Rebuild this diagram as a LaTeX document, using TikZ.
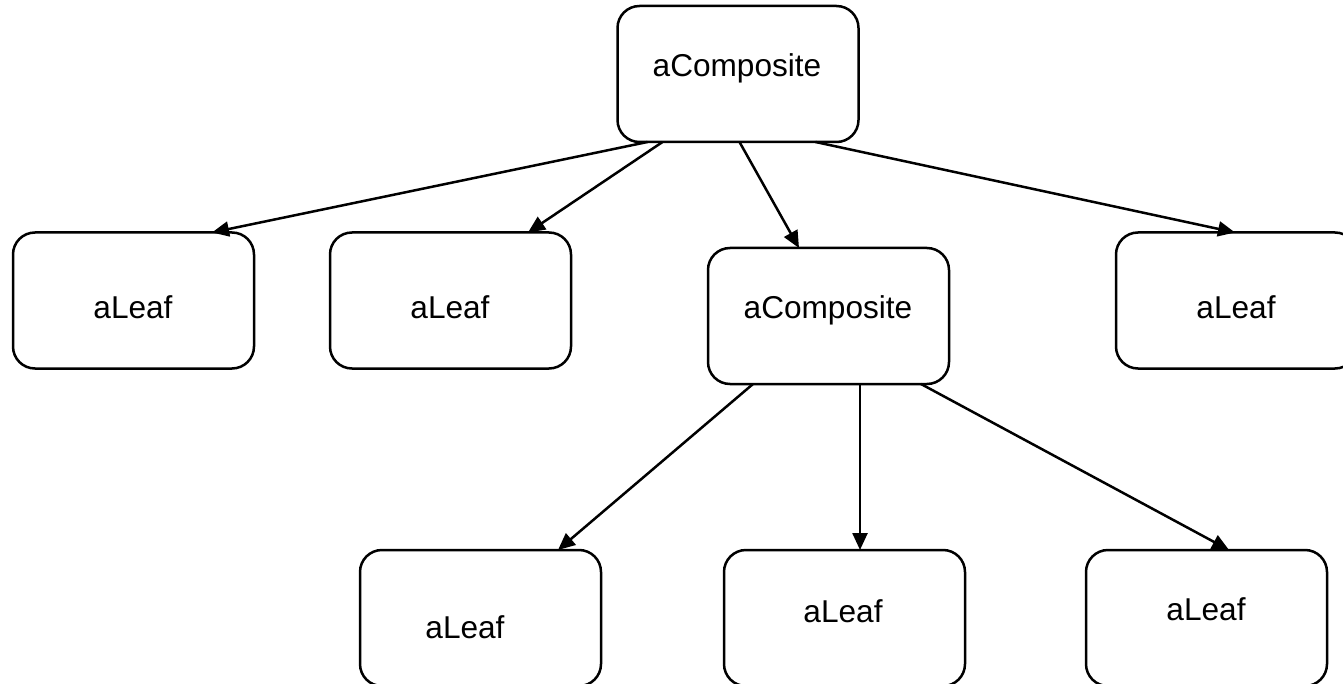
\documentclass[tikz,border=0pt]{standalone}
\usepackage{fontspec}
\setmainfont{Liberation Sans}
\usetikzlibrary{arrows.meta,calc}
\begin{document}
\begin{tikzpicture}[x=0.5pt,y=-0.5pt,
  box/.style={draw, line width=1.25pt, rounded corners=11pt, minimum width=120.5pt, minimum height=68pt, inner sep=0pt, outer sep=0pt},
  lbl/.style={anchor=base, inner sep=0pt, font=\fontsize{15.8}{19}\selectfont},
  conn/.style={line width=1.25pt, -{Triangle[length=8.5pt,width=7.5pt]}}]
\useasboundingbox (0,0) rectangle (1343,684);
\clip (0,0) rectangle (1343,684);
% boxes
\node[box] (c1) at (738,74) {};
\node[box] (l1) at (133.5,300.5) {};
\node[box] (l2) at (450.5,300.5) {};
\node[box] (m)  at (828.5,316) {};
\node[box] (r)  at (1236.5,300.5) {};
\node[box] (b1) at (480.5,618) {};
\node[box] (b2) at (844.5,618) {};
\node[box] (b3) at (1206.5,618) {};
% labels
\node[lbl] (c1t) at (737,77) {aComposite};
\node[lbl] (l1t) at (133,318) {aLeaf};
\node[lbl] (l2t) at (450,318) {aLeaf};
\node[lbl] (mt)  at (828,318) {aComposite};
\node[lbl] (rt)  at (1236,318) {aLeaf};
\node[lbl] (b1t) at (465,638) {aLeaf};
\node[lbl] (b2t) at (843,622) {aLeaf};
\node[lbl] (b3t) at (1206,620) {aLeaf};
% connectors
\draw[conn] ($(c1.south west)+(30,0)$) -- ($(l1.north west)+(199,0)$);
\draw[conn] ($(c1.south west)+(45,0)$) -- ($(l2.north west)+(198,0)$);
\draw[conn] ($(c1.south west)+(122,0)$) -- ($(m.north west)+(91,0)$);
\draw[conn] ($(c1.south west)+(198,0)$) -- ($(r.north west)+(119,0)$);
\draw[conn] ($(m.south west)+(45,0)$) -- ($(b1.north west)+(198,0)$);
\draw[conn] ($(m.south west)+(152,0)$) -- ($(b2.north west)+(136,0)$);
\draw[conn] ($(m.south west)+(213,0)$) -- ($(b3.north west)+(143,0)$);
\end{tikzpicture}
\end{document}
